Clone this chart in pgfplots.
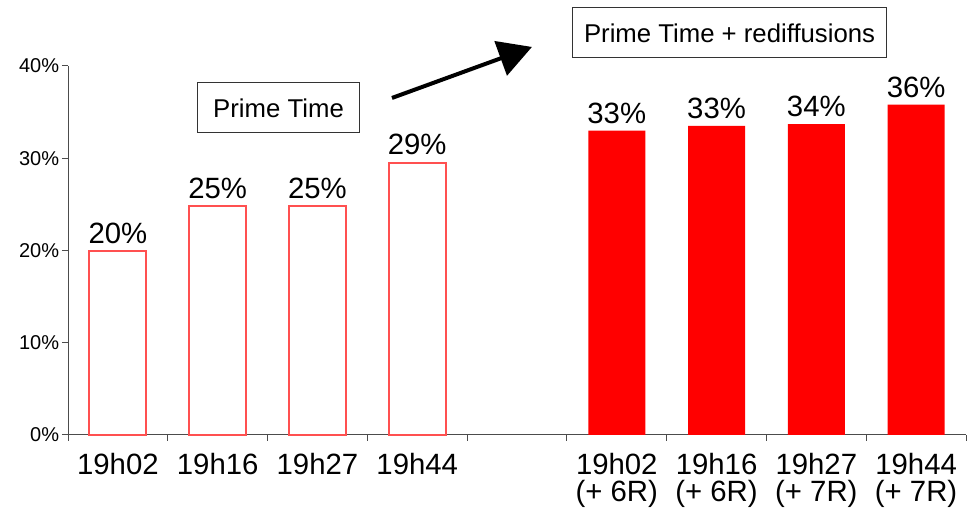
\documentclass[border=0pt]{standalone}
\usepackage{pgfplots}
\pgfplotsset{compat=1.18}
\usepackage{fontspec}
\setmainfont{Liberation Sans}
\usetikzlibrary{arrows.meta}
\definecolor{barred}{HTML}{FF0000}
\definecolor{edgered}{HTML}{FF5050}
\begin{document}
\begin{tikzpicture}
\begin{axis}[
  scale only axis, width=673.5pt, height=276.75pt,
  xmin=0, xmax=9, ymin=0, ymax=40,
  axis x line=bottom, axis y line=left,
  axis line style={-, black!70, line width=0.7pt},
  clip=false,
  /pgf/number format/assume math mode=true,
  ytick={0,10,...,40},
  yticklabel={\pgfmathprintnumber{\tick}\%},
  yticklabel style={font=\fontsize{15}{15}\selectfont, inner xsep=2pt},
  tick align=outside,
  major tick length=4.5pt, minor tick length=4.5pt,
  tick style={black!70, line width=0.7pt},
  major x tick style={draw=none},
  xtick={0.5,1.5,2.5,3.5,5.5,6.5,7.5,8.5},
  minor xtick={0,...,9},
  xticklabels={19h02,19h16,19h27,19h44,{19h02\\(+ 6R)},{19h16\\(+ 6R)},{19h27\\(+ 7R)},{19h44\\(+ 7R)}},
  xticklabel style={font=\fontsize{22}{20}\selectfont, align=center, anchor=north, yshift=-6pt},
  ybar, bar width=42.75pt, bar shift=0pt,
  nodes near coords, point meta=explicit symbolic,
  nodes near coords style={font=\fontsize{22}{22}\selectfont, inner ysep=5pt, inner xsep=0pt, black},
]
\addplot[draw=edgered, fill=white, line width=1.4pt] coordinates {
  (0.5,19.9) [20\%] (1.5,24.8) [25\%] (2.5,24.8) [25\%] (3.5,29.5) [29\%]
};
\addplot[draw=none, fill=barred] coordinates {
  (5.5,33.0) [33\%] (6.5,33.5) [33\%] (7.5,33.7) [34\%] (8.5,35.8) [36\%]
};
\path (axis cs:-0.6815,-8.78) rectangle (axis cs:9.02,47.15);
\node[draw=black!80, line width=0.8pt, fill=white, minimum width=122pt, minimum height=37.5pt,
      font=\fontsize{19.3}{19.3}\selectfont] at (axis cs:2.110,35.45) {Prime Time};
\node[draw=black!80, line width=0.8pt, fill=white, minimum width=236pt, minimum height=37.5pt,
      font=\fontsize{19.3}{19.3}\selectfont] at (axis cs:6.630,43.58) {Prime Time + rediffusions};
\draw[line width=3pt, -{Triangle[length=25pt, width=27pt]}] (axis cs:3.247,36.53) -- (axis cs:4.650,42.06);
\end{axis}
\end{tikzpicture}
\end{document}
